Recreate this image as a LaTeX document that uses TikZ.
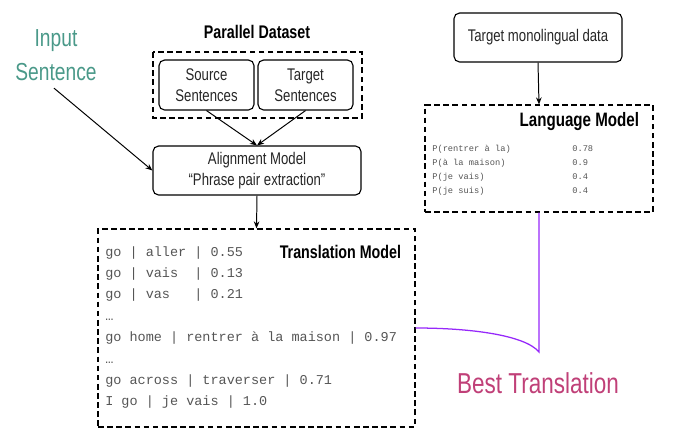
\documentclass[tikz,border=0pt]{standalone}
\usepackage{fontspec}
\setmainfont[FakeStretch=0.78]{Liberation Sans}
\setmonofont{Liberation Mono}
\usepackage{tikz}
\usetikzlibrary{arrows.meta}

\definecolor{inputteal}{RGB}{74,153,137}
\definecolor{bestpink}{RGB}{192,64,120}
\definecolor{joinviolet}{RGB}{150,40,250}
\definecolor{codegray}{RGB}{85,85,85}

\tikzset{
  box/.style={draw, rounded corners=4pt, line width=0.8pt, align=center, text=black!85, font=\fontsize{12}{15}\selectfont},
  dashbox/.style={draw, dash pattern=on 4pt off 2.5pt, line width=0.8pt},
  title/.style={font=\bfseries\fontsize{13}{15}\selectfont},
  arr/.style={-{Stealth[length=5pt,width=4pt]}, line width=0.7pt},
  tmline/.style={anchor=base west, inner sep=0pt, text=codegray, font=\ttfamily\fontsize{9.6}{11}\selectfont},
  lmline/.style={anchor=base west, inner sep=0pt, text=codegray, font=\ttfamily\fontsize{6.2}{8}\selectfont}
}

\begin{document}
\begin{tikzpicture}[x=0.025cm, y=-0.025cm]

\useasboundingbox (0,0) rectangle (676,442);

% left side
\node[align=center, text=inputteal, font=\fontsize{17.5}{24}\selectfont, inner sep=1pt] (input) at (56,55) {Input\\Sentence};

\node[title] (pdtitle) at (257,32) {Parallel Dataset};
\draw[dashbox] (153,52) rectangle (362,118);
\node[box, minimum width=2.375cm, minimum height=1.25cm] (src) at (206.5,85) {Source\\Sentences};
\node[box, minimum width=2.375cm, minimum height=1.25cm] (tgt) at (305.5,85) {Target\\Sentences};

\node[box, minimum width=5.2cm, minimum height=1.225cm] (align) at (257,170.5) {Alignment Model\\“Phrase pair extraction”};

\node[dashbox, minimum width=7.925cm, minimum height=4.95cm] (tm) at (256.5,328) {};
\node[title, anchor=east] (tmtitle) at (406,252) {Translation Model};

\foreach \txt [count=\i] in {go | aller | 0.55, go | vais~~| 0.13, go | vas~~~| 0.21, …, go home | rentrer à la maison | 0.97, …, go across | traverser | 0.71, I go | je vais | 1.0}
	{
		\node[tmline] at (105, 256+21.4*\i-21.4) {\txt};
	}

\draw[arr] ([shift={(-2,6)}]input.south) -- (align.west);
\draw[arr] (src.south) -- (align.north);
\draw[arr] (tgt.south) -- (align.north);
\draw[arr] (align.south) -- (tm.north);

% right side
\node[box, minimum width=4.2cm, minimum height=1.225cm] (tmd) at (538,37.5) {Target monolingual data};

\node[dashbox, minimum width=5.7cm, minimum height=2.675cm] (lm) at (539,158.5) {};
\node[title, font=\bfseries\fontsize{13.8}{15}\selectfont, anchor=east] (lmtitle) at (644,122) {Language Model};

\foreach \txt/\val [count=\i] in {P(rentrer à la)/0.78, P(à la maison)/0.9, P(je vais)/0.4, P(je suis)/0.4}
	{
		\node[lmline] at (432, 151+14.3*\i-14.3) {\txt};
		\node[lmline] at (572, 151+14.3*\i-14.3) {\val};
	}

\draw[arr] (tmd.south) -- (lm.north);

\coordinate (join) at (539,352);
\draw[joinviolet, line width=0.9pt] (lm.south) -- (join) .. controls (525,335) and (470,328) .. (tm.east);

\node[text=bestpink, font=\fontsize{20.5}{22}\selectfont] (best) at (538,383) {Best Translation};

\end{tikzpicture}
\end{document}
